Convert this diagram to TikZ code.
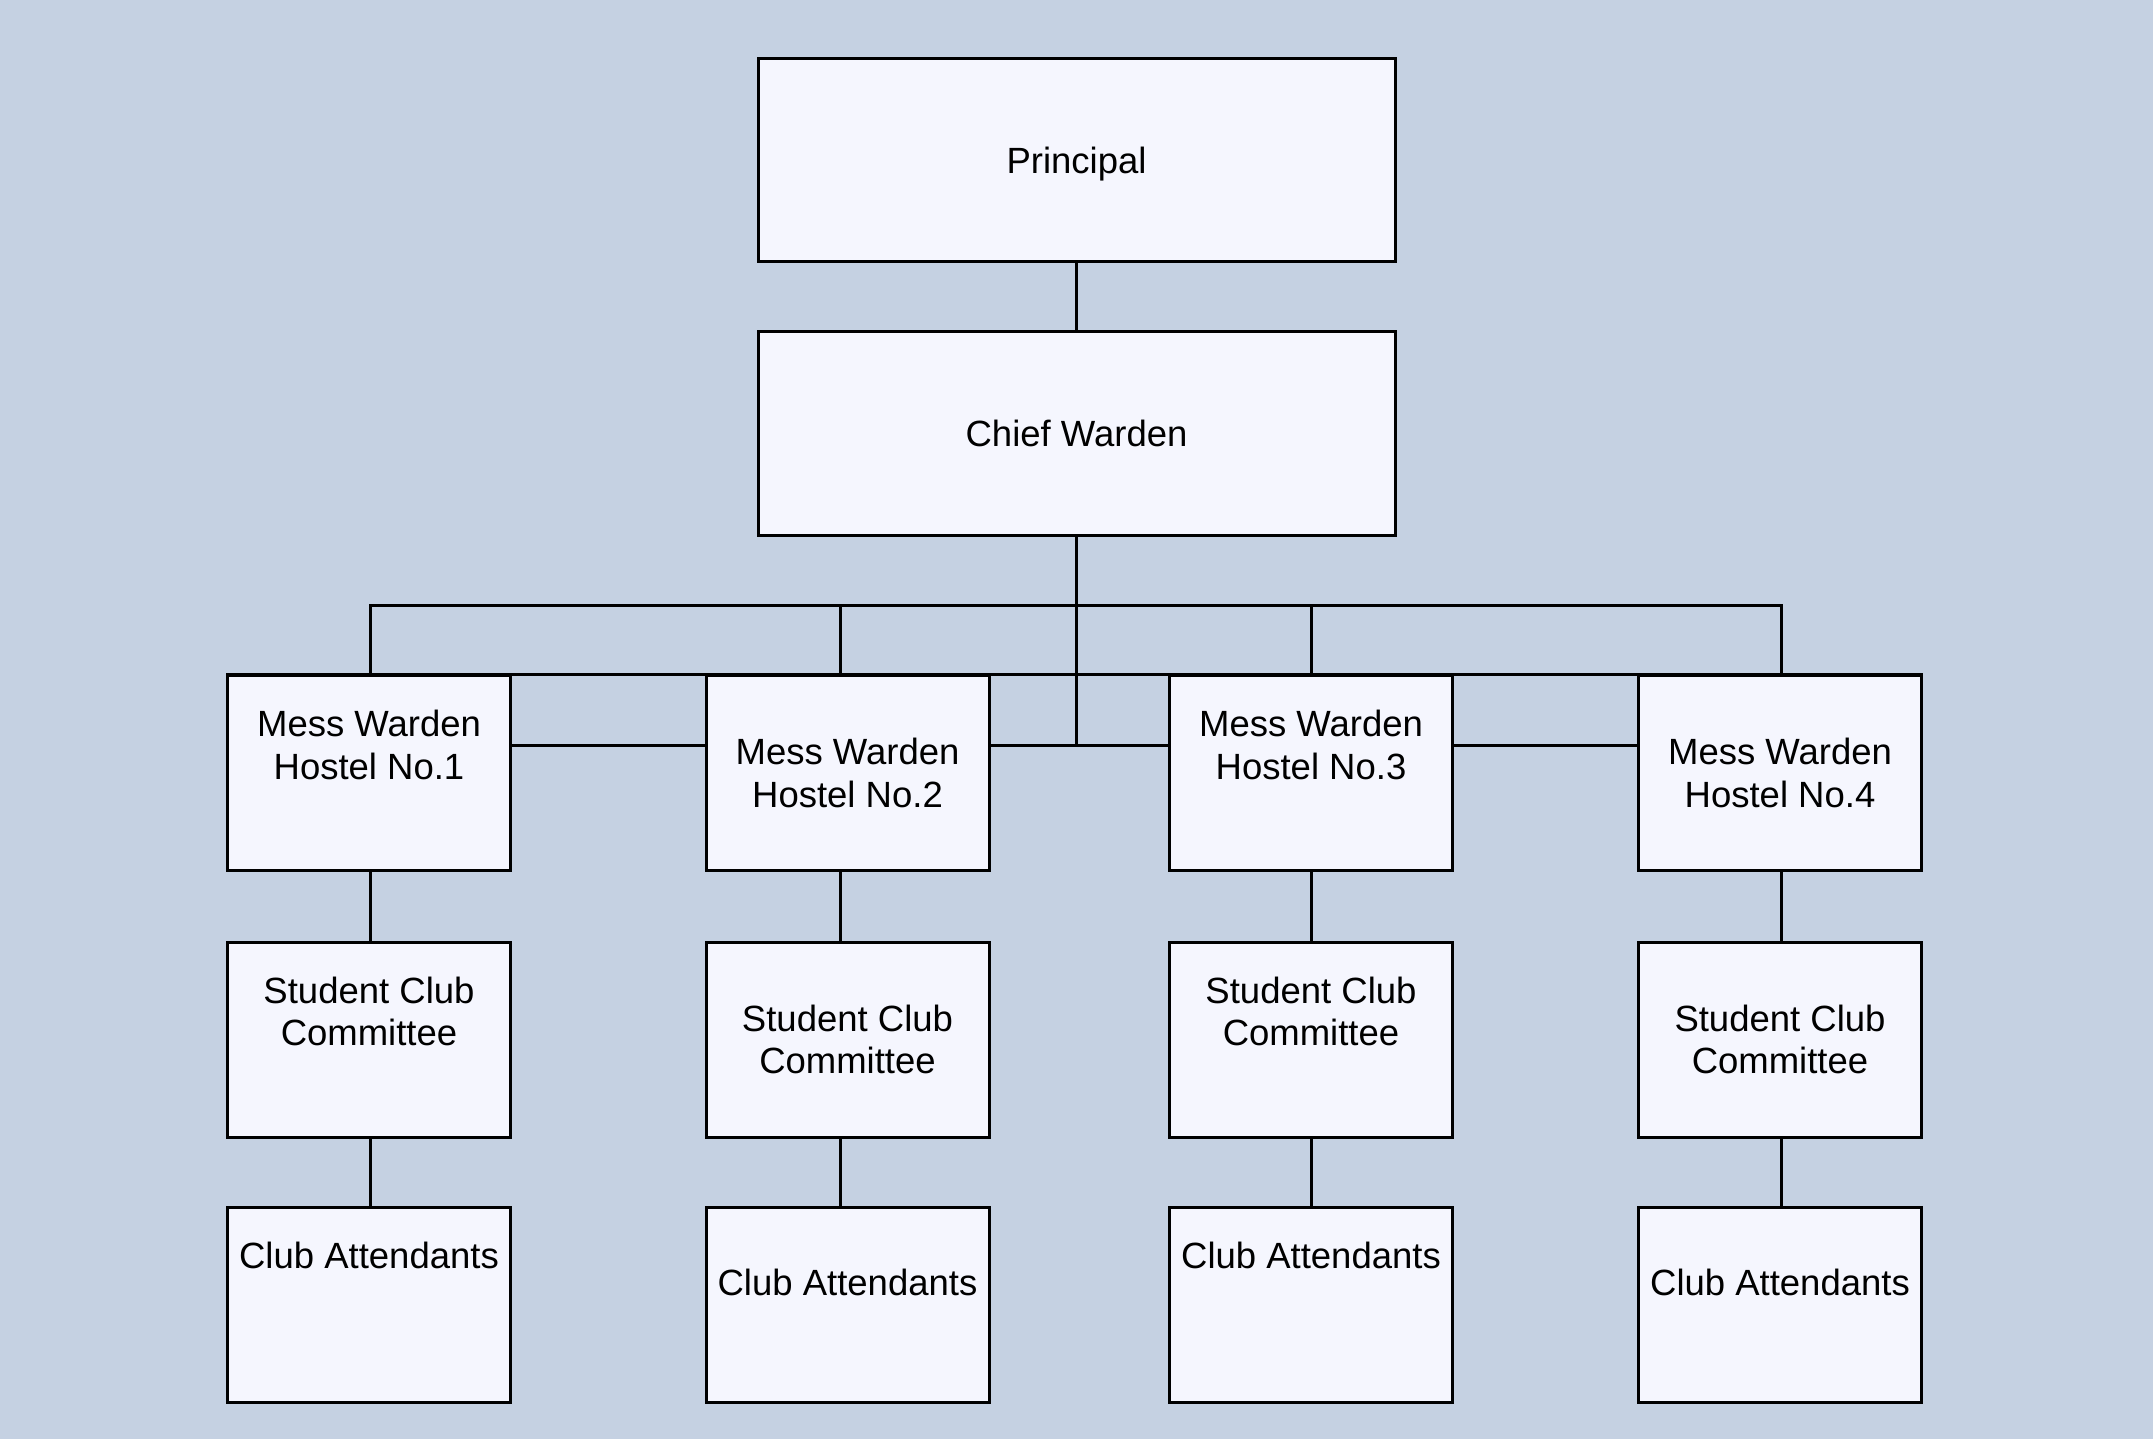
\documentclass[tikz,border=0pt]{standalone}
\usepackage{fontspec}
\setmainfont{Liberation Sans}
\definecolor{bgcol}{HTML}{C5D1E2}
\definecolor{boxfill}{HTML}{F5F6FE}
\begin{document}
\begin{tikzpicture}[x=1pt,y=-1pt,
  orgbox/.style={draw=black, line width=3pt, fill=boxfill, minimum width=283pt, minimum height=195pt, inner sep=0pt, align=center, font=\fontsize{36.5}{42.5}\selectfont},
  widebox/.style={minimum width=637pt, minimum height=203pt},
  toptext/.style={anchor=north, inner sep=0pt, yshift=-36pt, align=center, font=\fontsize{36.5}{42.5}\selectfont},
  midtext/.style={anchor=center, inner sep=0pt, yshift=-99pt, align=center, font=\fontsize{36.5}{42.5}\selectfont},
  onetext/.style={anchor=center, inner sep=0pt, yshift=-76.5pt, align=center, font=\fontsize{36.5}{42.5}\selectfont},
  link/.style={draw=black, line width=3pt}]
\fill[bgcol] (0,0) rectangle (2153,1439);
\useasboundingbox (0,0) rectangle (2153,1439);

% top
\node[orgbox, widebox, text height=26pt, text depth=0pt] (P) at (1076.5,160.5) {Principal};
\node[orgbox, widebox] (C) at (1076.5,433.5) {Chief Warden};

% row 1
\node[orgbox, label={[toptext]north:{Mess Warden\\Hostel No.1}}] (M1) at (369,773) {};
\node[orgbox, label={[midtext]north:{Mess Warden\\Hostel No.2}}] (M2) at (847.5,773) {};
\node[orgbox, label={[toptext]north:{Mess Warden\\Hostel No.3}}] (M3) at (1311,773) {};
\node[orgbox, label={[midtext]north:{Mess Warden\\Hostel No.4}}] (M4) at (1780,773) {};

% row 2
\node[orgbox, label={[toptext]north:{Student Club\\Committee}}] (S1) at (369,1039.5) {};
\node[orgbox, label={[midtext]north:{Student Club\\Committee}}] (S2) at (847.5,1039.5) {};
\node[orgbox, label={[toptext]north:{Student Club\\Committee}}] (S3) at (1311,1039.5) {};
\node[orgbox, label={[midtext]north:{Student Club\\Committee}}] (S4) at (1780,1039.5) {};

% row 3
\node[orgbox, label={[toptext]north:{Club Attendants}}] (A1) at (369,1305) {};
\node[orgbox, label={[onetext]north:{Club Attendants}}] (A2) at (847.5,1305) {};
\node[orgbox, label={[toptext]north:{Club Attendants}}] (A3) at (1311,1305) {};
\node[orgbox, label={[onetext]north:{Club Attendants}}] (A4) at (1780,1305) {};

% connector helper points
\coordinate (hub) at (1076.5,745.5);
\coordinate (b1) at (370.5,605.5);
\coordinate (b2) at (840.3,605.5);
\coordinate (b3) at (1311,605.5);
\coordinate (b4) at (1781,605.5);

\draw[link] (P.south) -- (C.north);
\draw[link] (C.south) -- (hub);
\draw[link] (b1 |- M1.north) -- (b1) -- (b4) -- (b4 |- M4.north);
\draw[link] (b2) -- (b2 |- M2.north);
\draw[link] (b3) -- (b3 |- M3.north);
\draw[link] (M1.north west) -- (M4.north east);
\draw[link] (M1.east |- hub) -- (M2.west |- hub);
\draw[link] (M2.east |- hub) -- (M3.west |- hub);
\draw[link] (M3.east |- hub) -- (M4.west |- hub);

\draw[link] (b1 |- M1.south) -- (b1 |- S1.north);
\draw[link] (b2 |- M2.south) -- (b2 |- S2.north);
\draw[link] (b3 |- M3.south) -- (b3 |- S3.north);
\draw[link] (b4 |- M4.south) -- (b4 |- S4.north);
\draw[link] (b1 |- S1.south) -- (b1 |- A1.north);
\draw[link] (b2 |- S2.south) -- (b2 |- A2.north);
\draw[link] (b3 |- S3.south) -- (b3 |- A3.north);
\draw[link] (b4 |- S4.south) -- (b4 |- A4.north);
\end{tikzpicture}
\end{document}
